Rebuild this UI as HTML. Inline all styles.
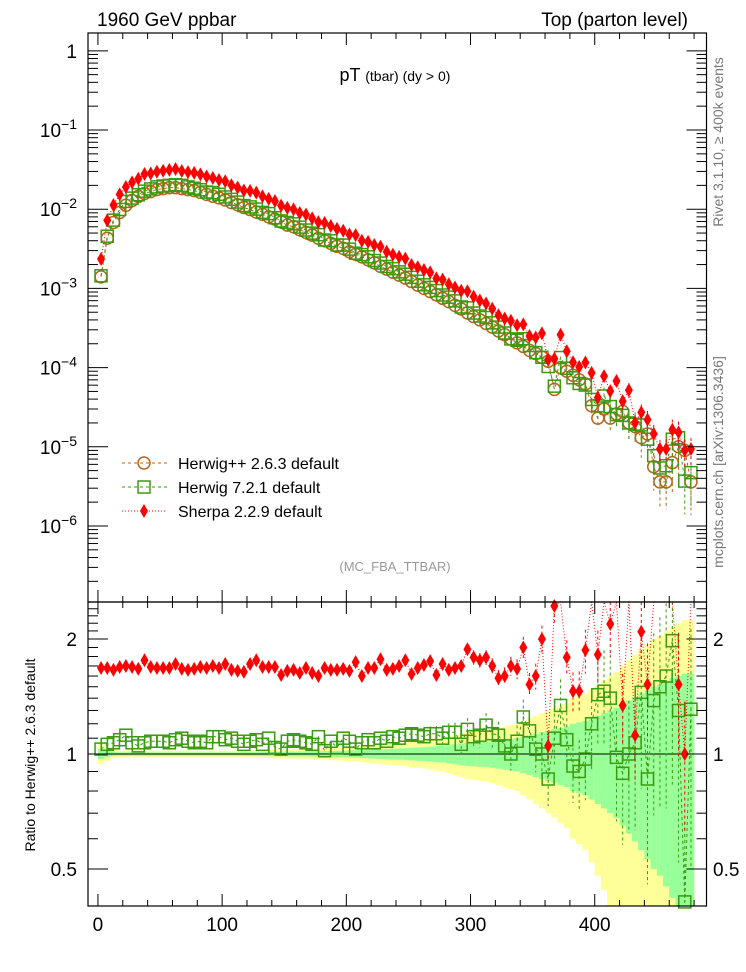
<!DOCTYPE html>
<html><head><meta charset="utf-8">
<style>
body{margin:0;background:#fff;}
svg{display:block;font-family:"Liberation Sans",Arial,sans-serif;}
</style></head>
<body>
<svg id="chart" width="746" height="972" viewBox="0 0 746 972" xmlns="http://www.w3.org/2000/svg">
<g id="bands"></g>
<g id="marks"></g>
<g id="axes"></g>
<text x="97" y="26" font-size="19">1960 GeV ppbar</text>
<text x="688" y="26" font-size="19" text-anchor="end">Top (parton level)</text>
<text x="395" y="81" font-size="18" text-anchor="middle">pT <tspan font-size="14">(tbar) (dy &gt; 0)</tspan></text>
<text x="395" y="571" font-size="13" fill="#999" text-anchor="middle">(MC_FBA_TTBAR)</text>
<text transform="translate(723,142) rotate(-90)" font-size="14" fill="#777" text-anchor="middle">Rivet 3.1.10, ≥ 400k events</text>
<text transform="translate(723,462) rotate(-90)" font-size="14" fill="#777" text-anchor="middle">mcplots.cern.ch [arXiv:1306.3436]</text>
<text transform="translate(35,755) rotate(-90)" font-size="14" text-anchor="middle">Ratio to Herwig++ 2.6.3 default</text>
<g>
 <g>
  <line x1="122" y1="463" x2="167" y2="463" stroke="#b8651b" stroke-width="1" stroke-dasharray="3,3"/>
  <circle cx="144" cy="463" r="6" fill="none" stroke="#b8651b" stroke-width="1.5"/>
  <text x="178" y="469" font-size="16">Herwig++ 2.6.3 default</text>
 </g>
 <g>
  <line x1="122" y1="487" x2="167" y2="487" stroke="#3a9a10" stroke-width="1" stroke-dasharray="3,3"/>
  <rect x="138" y="481" width="12" height="12" fill="none" stroke="#3a9a10" stroke-width="1.5"/>
  <text x="178" y="493" font-size="16">Herwig 7.2.1 default</text>
 </g>
 <g>
  <line x1="122" y1="511" x2="167" y2="511" stroke="#f00" stroke-width="1" stroke-dasharray="1,2"/>
  <path d="M144 504 L148 511 L144 518 L140 511 Z" fill="#f00"/>
  <text x="178" y="517" font-size="16">Sherpa 2.2.9 default</text>
 </g>
</g>
</svg>
<script>
// ---- data ----
const binCenters = [];
for (let i = 0; i < 96; i++) binCenters.push(2.5 + 5 * i);
const herwigPP = [1.4e-3,4.3e-3,6.8e-3,9.1e-3,1.12e-2,1.29e-2,1.45e-2,1.58e-2,1.67e-2,1.77e-2,
1.82e-2,1.87e-2,1.87e-2,1.82e-2,1.77e-2,1.72e-2,1.63e-2,1.54e-2,1.46e-2,1.39e-2,
1.31e-2,1.21e-2,1.14e-2,1.05e-2,9.9e-3,9.2e-3,8.6e-3,8.0e-3,7.5e-3,6.9e-3,
6.3e-3,6.0e-3,5.5e-3,5.1e-3,4.7e-3,4.3e-3,4.0e-3,3.7e-3,3.4e-3,3.2e-3,
2.9e-3,2.7e-3,2.5e-3,2.3e-3,2.1e-3,1.9e-3,1.75e-3,1.6e-3,1.47e-3,1.35e-3,
1.22e-3,1.10e-3,1.0e-3,9.1e-4,8.3e-4,7.5e-4,6.8e-4,6.1e-4,5.5e-4,4.9e-4,
4.4e-4,4.0e-4,3.6e-4,3.25e-4,2.9e-4,2.6e-4,2.3e-4,2.05e-4,1.85e-4,1.65e-4,
1.5e-4,1.35e-4,1.2e-4,5.3e-5,1.0e-4,9.0e-5,8.0e-5,7.0e-5,6.2e-5,3.3e-5,
2.3e-5,3.0e-5,2.3e-5,2.6e-5,2.8e-5,2.0e-5,1.8e-5,1.3e-5,1.45e-5,5.6e-6,
3.6e-6,3.6e-6,6.3e-6,1.0e-5,9.0e-6,3.6e-6];
const ratioH7 = [1.03,1.06,1.07,1.09,1.12,1.07,1.05,1.07,1.08,1.08,
1.08,1.07,1.09,1.10,1.08,1.07,1.08,1.07,1.11,1.11,
1.09,1.10,1.08,1.06,1.08,1.09,1.06,1.10,1.04,1.03,
1.08,1.09,1.08,1.07,1.06,1.11,1.02,1.08,1.04,1.10,
1.08,1.03,1.07,1.09,1.07,1.10,1.08,1.11,1.10,1.12,
1.13,1.12,1.11,1.13,1.13,1.10,1.14,1.14,1.06,1.16,
1.11,1.12,1.19,1.13,1.12,1.05,1.00,1.08,1.25,1.15,
1.03,1.00,0.86,1.10,1.34,1.09,0.93,0.90,0.97,1.20,
1.43,1.46,1.40,0.98,0.89,1.00,1.07,1.45,0.86,1.38,
1.50,1.60,1.98,1.30,0.41,1.31];
const ratioSherpa = [1.68,1.68,1.66,1.69,1.70,1.69,1.67,1.76,1.69,1.68,
1.68,1.68,1.72,1.67,1.66,1.67,1.69,1.68,1.70,1.68,
1.72,1.66,1.65,1.64,1.72,1.76,1.69,1.69,1.69,1.61,
1.65,1.66,1.63,1.68,1.63,1.60,1.68,1.66,1.66,1.67,
1.65,1.74,1.60,1.68,1.68,1.77,1.66,1.67,1.70,1.76,
1.62,1.68,1.71,1.75,1.61,1.72,1.66,1.68,1.70,1.88,
1.79,1.76,1.79,1.70,1.58,1.60,1.70,1.67,1.90,1.52,
1.60,2.00,1.05,2.44,2.60,1.79,1.46,1.46,1.87,2.60,
1.82,2.60,2.19,2.60,1.34,2.60,1.12,2.09,1.52,2.60,
2.60,2.60,2.60,1.52,1.00,2.60];
const relErr = [0.03,0.02,0.012,0.01,0.01,0.01,0.01,0.01,0.01,0.01,
0.01,0.01,0.01,0.01,0.01,0.01,0.01,0.01,0.01,0.01,
0.01,0.01,0.01,0.011,0.011,0.011,0.012,0.012,0.013,0.013,
0.014,0.014,0.015,0.015,0.016,0.016,0.017,0.018,0.019,0.02,
0.021,0.022,0.024,0.026,0.028,0.03,0.031,0.033,0.034,0.035,
0.038,0.04,0.042,0.045,0.048,0.05,0.055,0.06,0.065,0.07,
0.072,0.074,0.075,0.08,0.085,0.09,0.095,0.10,0.11,0.12,
0.13,0.14,0.15,0.16,0.17,0.18,0.20,0.21,0.22,0.24,
0.26,0.28,0.30,0.32,0.35,0.38,0.41,0.44,0.47,0.50,
0.52,0.55,0.58,0.60,0.62,0.62];
const xTicks = [0,100,200,300,400];
const ratioTicks = [0.5,1,2];
const mainDecades = [0,-1,-2,-3,-4,-5,-6];

// ---- scales ----
const X0=88, X1=706.5, XMIN=-8, XMAX=490;
const MT=33, MB=602, RT=602, RB=906;
const LOGTOP=0.225, LOGBOT=-6.96;
const RTOP=2.5, RBOT=0.40;
const sx = v => X0 + (v - XMIN) / (XMAX - XMIN) * (X1 - X0);
const sy = v => MT + (LOGTOP - Math.log10(v)) / (LOGTOP - LOGBOT) * (MB - MT);
const sr = v => RT + (Math.log(RTOP) - Math.log(v)) / (Math.log(RTOP) - Math.log(RBOT)) * (RB - RT);
const NS='http://www.w3.org/2000/svg';
function mk(tag, attrs, parent){const e=document.createElementNS(NS,tag);for(const k in attrs)e.setAttribute(k,attrs[k]);parent.appendChild(e);return e;}
const bands=document.getElementById('bands'), marks=document.getElementById('marks'), axes=document.getElementById('axes');

// ---- ratio bands ----
const clipR = v => Math.min(RTOP, Math.max(RBOT, v));
binCenters.forEach((c,i)=>{
  const xa=sx(c-2.5), xb=sx(c+2.5);
  const ey=2*relErr[i], eg=relErr[i];
  const y1=sr(clipR(1+ey)), y2=sr(clipR(Math.max(RBOT,1-ey)));
  const b=mk('rect',{x:xa,y:y1,width:xb-xa+0.3,height:y2-y1,fill:'#ffff99'},bands);
  
  
  const g1=sr(clipR(1+eg)), g2=sr(clipR(Math.max(RBOT,1-eg)));
  const g=mk('rect',{x:xa,y:g1,width:xb-xa+0.3,height:g2-g1,fill:'#99ff99'},bands);
  
  
});
const one=mk('line',{x1:X0,x2:X1,y1:sr(1),y2:sr(1),stroke:'#000','stroke-width':1},bands);



// ---- series ----
const series=[
 {name:'herwigpp',color:'#b8651b',dash:'3,3',vals:herwigPP.map(v=>v),ratio:herwigPP.map(()=>1),shape:'circle',ef:1},
 {name:'herwig7',color:'#3a9a10',dash:'3,3',vals:herwigPP.map((v,i)=>v*ratioH7[i]),ratio:ratioH7,shape:'square',ef:1},
 {name:'sherpa',color:'#f00',dash:'1,2',vals:herwigPP.map((v,i)=>v*ratioSherpa[i]),ratio:ratioSherpa,shape:'diamond',ef:0.6}
];
function marker(shape,x,y,color,g){
  if(shape==='circle') return mk('circle',{cx:x,cy:y,r:6,fill:'none',stroke:color,'stroke-width':1.5},g);
  if(shape==='square') return mk('rect',{x:x-6,y:y-6,width:12,height:12,fill:'none',stroke:color,'stroke-width':1.5},g);
  return mk('path',{d:`M${x} ${y-7}L${x+4} ${y}L${x} ${y+7}L${x-4} ${y}Z`,fill:color},g);
}
const clipMain=v=>Math.min(MB, Math.max(MT, v));
const clipRatioPx=v=>Math.min(RB, Math.max(RT, v));
series.forEach(s=>{
  const g=mk('g',{},marks);
  
  
  const pts=binCenters.map((c,i)=>sx(c)+','+sy(s.vals[i])).join(' ');
  const pl=mk('polyline',{points:pts,fill:'none',stroke:s.color,'stroke-width':1,'stroke-dasharray':s.dash},g);
  
  
  const rpts=binCenters.map((c,i)=>sx(c)+','+clipRatioPx(sr(s.ratio[i]))).join(' ');
  if(s.name!=='herwigpp'){
    const rl=mk('polyline',{points:rpts,fill:'none',stroke:s.color,'stroke-width':1,'stroke-dasharray':s.dash},g);
    
    
  }
  binCenters.forEach((c,i)=>{
    const x=sx(c), v=s.vals[i], e=relErr[i]*s.ef;
    const yt=clipMain(sy(v*(1+e))), yb=clipMain(sy(Math.max(v*(1-e),1e-9)));
    if(yb-yt>14){
      const eb=mk('line',{x1:x,x2:x,y1:yt,y2:yb,stroke:s.color,'stroke-width':1,'stroke-dasharray':'3,3'},g);
      
      
    }
    const m=marker(s.shape,x,sy(v),s.color,g);
    
    
    if(s.name!=='herwigpp'){
      const r=s.ratio[i];
      const ry=sr(r);
      if(ry>=RT-2 && ry<=RB+2){
        const rt=clipRatioPx(sr(r*(1+e))), rb=clipRatioPx(sr(Math.max(r*(1-e),0.01)));
        if(rb-rt>14){
          const re=mk('line',{x1:x,x2:x,y1:rt,y2:rb,stroke:s.color,'stroke-width':1,'stroke-dasharray':'3,3'},g);
          
          
        }
        const rm=marker(s.shape,x,ry,s.color,g);
        
        
      }
    }
  });
});

// ---- axes / frames ----
[[MT,MB],[RT,RB]].forEach(([t,b],k)=>{
  const f=mk('rect',{x:X0,y:t,width:X1-X0,height:b-t,fill:'none',stroke:'#000','stroke-width':1.2},axes);
  
  
  for(let v=0; v<=XMAX; v+=20){
    const x=sx(v), L=(v%100===0)?12:6;
    mk('line',{x1:x,x2:x,y1:b,y2:b-L,stroke:'#000'},axes);
    mk('line',{x1:x,x2:x,y1:t,y2:t+L,stroke:'#000'},axes);
  }
});
xTicks.forEach(v=>{
  const t=mk('text',{x:sx(v),y:931,'font-size':19,'text-anchor':'middle'},axes);
  t.textContent=v;
  
  
});
for(let d=1; d>=-7; d--){
  for(let m=1;m<10;m++){
    const v=m*Math.pow(10,d);
    if(Math.log10(v)>LOGTOP||Math.log10(v)<LOGBOT) continue;
    const y=sy(v), L=m===1?20:10;
    mk('line',{x1:X0,x2:X0+L,y1:y,y2:y,stroke:'#000'},axes);
    mk('line',{x1:X1,x2:X1-L,y1:y,y2:y,stroke:'#000'},axes);
  }
}
mainDecades.forEach(d=>{
  const y=sy(Math.pow(10,d));
  const t=mk('text',{x:77,y:y+7,'font-size':19,'text-anchor':'end'},axes);
  
  
  if(d===0){t.textContent='1';}
  else{
    t.textContent='10';
    const sp=document.createElementNS(NS,'tspan');
    sp.setAttribute('dy','-8');sp.setAttribute('font-size','14');
    sp.textContent='\u2212'+(-d);
    t.appendChild(sp);
  }
});
for(let v=0.4; v<=2.5+1e-9; v=Math.round((v+0.1)*10)/10){
  const y=sr(v), major=ratioTicks.includes(v), L=major?20:10;
  mk('line',{x1:X0,x2:X0+L,y1:y,y2:y,stroke:'#000'},axes);
  mk('line',{x1:X1,x2:X1-L,y1:y,y2:y,stroke:'#000'},axes);
}
ratioTicks.forEach(v=>{
  const y=sr(v);
  const t=mk('text',{x:77,y:y+7,'font-size':19,'text-anchor':'end'},axes);
  t.textContent=v;
  
  
  const t2=mk('text',{x:713,y:y+7,'font-size':19},axes);
  t2.textContent=v;
  
  
});
</script>
</body></html>
